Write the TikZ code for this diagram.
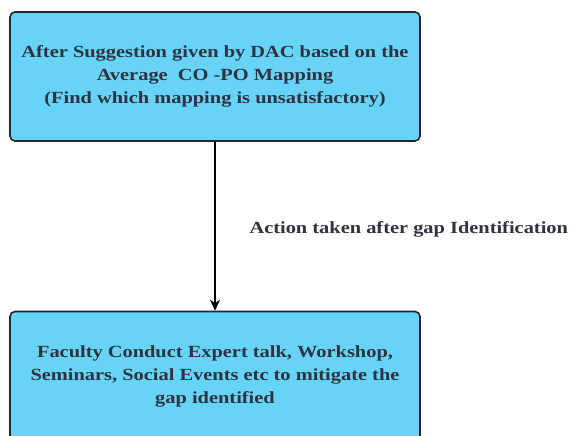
\documentclass[tikz,border=0pt]{standalone}
\usepackage{fontspec}
\setmainfont[FakeStretch=1.2]{Liberation Serif}
\usetikzlibrary{arrows.meta}
\definecolor{boxblue}{HTML}{66D4F8}
\definecolor{inkgray}{HTML}{30323F}
\begin{document}
\begin{tikzpicture}
[>={Stealth[length=11pt,width=10pt]},x=1pt,y=-1pt,every node/.style={font=\bfseries\fontsize{17}{23}\selectfont,text=inkgray}]

\clip (0,0) rectangle (574,436);

\node[draw=black!85,fill=boxblue,rounded corners=5pt,line width=1.6pt,minimum width=410pt,minimum height=129pt,align=center] (dac) at (215,76.5) {After Suggestion given by DAC based on the\\Average\ \ CO -PO Mapping\\(Find which mapping is unsatisfactory)};
\node[draw=black!85,fill=boxblue,rounded corners=5pt,line width=1.6pt,minimum width=410pt,minimum height=129pt,align=center] (faculty) at (215,376) {Faculty Conduct Expert talk, Workshop,\\Seminars, Social Events etc to mitigate the\\gap identified};

%gap action
\draw[->,line width=1.2pt] (dac) -- (faculty);
\node[anchor=west] (gap) at (246,229) {Action taken after gap Identification};

\end{tikzpicture}
\end{document}
